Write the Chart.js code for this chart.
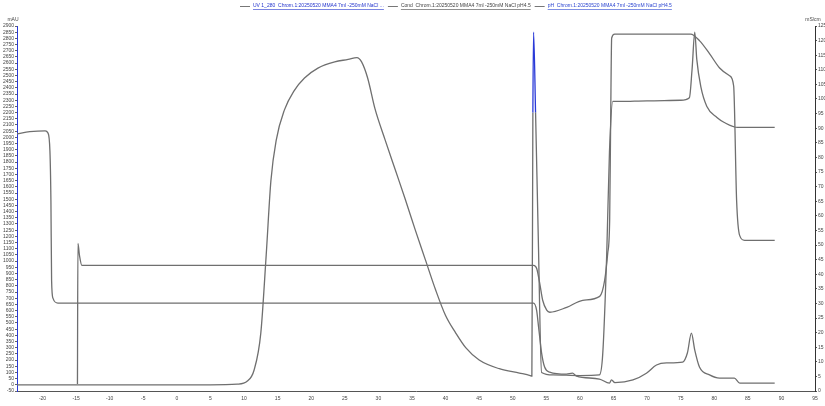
<!DOCTYPE html>
<html>
<head>
<meta charset="utf-8">
<script src="https://cdn.jsdelivr.net/npm/chart.js@4.4.0/dist/chart.umd.min.js"></script>
<style>
  html, body { margin: 0; padding: 0; background: #fff; }
</style>
</head>
<body>
<canvas id="myChart" width="825" height="406"></canvas>
<script>
//SERIES LABELS (LEGEND TEXT)
const seriesLabels = [
  "UV 1_280  Chrom.1:20250520 MMA4 7ml -250mM NaCl ...",
  "Cond  Chrom.1:20250520 MMA4 7ml -250mM NaCl pH4.5",
  "pH  Chrom.1:20250520 MMA4 7ml -250mM NaCl pH4.5",
];
const legendColors = ["#2233cc", "#444444", "#2a44d0"];

//UV 1_280 (mAU, LEFT AXIS)
const timeUV = [-23.8, 5, 9, 10.5, 11.5, 12.5, 13.3, 14, 14.8, 16, 17.5, 19, 21, 23.5, 25.5, 26.8, 27.5, 28.4, 29.5, 31, 32.5, 34, 35.5, 37, 38.5, 40, 41.5, 43, 45, 48, 51, 52.6, 52.85, 53.0, 53.1, 53.4, 53.8, 54.3, 56, 60, 62.9, 63.4, 64, 64.4, 64.9, 66, 70, 75, 76.3, 76.7, 77.1, 77.4, 78, 78.9, 80.4, 81.5, 83.5, 89];
const uvValues = [0, 0, 5, 30, 120, 420, 1050, 1650, 1980, 2220, 2380, 2480, 2560, 2610, 2630, 2645, 2610, 2480, 2230, 1980, 1740, 1500, 1250, 1010, 770, 560, 420, 300, 200, 130, 95, 75, 70, 2200, 2850, 2200, 1200, 100, 80, 75, 80, 250, 1070, 1880, 2290, 2290, 2295, 2300, 2320, 2550, 2850, 2630, 2410, 2250, 2160, 2120, 2080, 2080];

//CONDUCTIVITY (mS/cm, RIGHT AXIS)
const timeCond = [-23.8, -21.9, -19.6, -19.2, -18.9, -18.75, -18.65, -18.45, -17.7, 53.1, 53.55, 53.85, 54.3, 54.75, 55.5, 58, 58.9, 59.5, 62.9, 64.4, 64.7, 65.2, 67.9, 69.9, 71.4, 72.9, 75.3, 76.0, 76.6, 77.1, 77.8, 79.3, 80.8, 83.0, 83.8, 89];
const condValues = [88.1, 88.8, 89.1, 88.4, 82.3, 65.2, 37.9, 31.8, 30.1, 30.1, 27.7, 21.9, 13.0, 8.2, 6.5, 5.8, 6.1, 5.1, 4.1, 2.7, 3.8, 2.9, 3.8, 6.1, 8.9, 9.6, 9.9, 13.0, 19.8, 14.0, 8.2, 5.5, 4.4, 4.4, 2.7, 2.7];

//PH (HIDDEN AXIS 0-14)
const timePH = [-14.8, -14.73, -14.5, -14.14, 53.1, 53.57, 54.02, 54.46, 55.06, 55.51, 58.04, 60.42, 62.95, 63.69, 64.14, 64.43, 64.58, 64.73, 65.18, 76.49, 77.83, 79.32, 80.8, 82.29, 82.89, 83.33, 83.78, 84.52, 89];
const phValues = [0.27, 5.66, 5.2, 4.82, 4.82, 4.70, 4.13, 3.48, 3.10, 3.02, 3.21, 3.48, 3.63, 4.25, 5.28, 6.54, 10.37, 13.54, 13.69, 13.69, 13.43, 12.93, 12.39, 12.09, 11.70, 7.31, 5.97, 5.78, 5.78];

function toPoints(xs, ys) {
  let pts = [];
  for (let i = 0; i < xs.length; i++) {
    pts.push({ x: xs[i], y: ys[i] });
  }
  return pts;
}

const traceColor = "#6f6f6f";
const blue = "#2a3ad8";

//DRAW LEGEND AND AXIS UNITS ON TOP
const headerPlugin = {
  id: "header",
  afterDraw(chart) {
    const ctx = chart.ctx;
    ctx.save();
    ctx.font = "5px Arial, 'Liberation Sans', sans-serif";
    ctx.textBaseline = "middle";
    let x = 240;
    const y = 6;
    for (let i = 0; i < seriesLabels.length; i++) {
      ctx.strokeStyle = "#777";
      ctx.lineWidth = 1;
      ctx.beginPath();
      ctx.moveTo(x, y + 0.5);
      ctx.lineTo(x + 10, y + 0.5);
      ctx.stroke();
      const tx = x + 13;
      const w = ctx.measureText(seriesLabels[i]).width;
      ctx.fillStyle = legendColors[i];
      ctx.textAlign = "left";
      ctx.fillText(seriesLabels[i], tx, y);
      ctx.strokeStyle = legendColors[i];
      ctx.lineWidth = 0.6;
      ctx.beginPath();
      ctx.moveTo(tx, y + 3.5);
      ctx.lineTo(tx + w, y + 3.5);
      ctx.stroke();
      x = tx + w + 4;
    }
    ctx.fillStyle = "#444";
    ctx.font = "5px Arial, 'Liberation Sans', sans-serif";
    ctx.textAlign = "center";
    ctx.fillText("mAU", 13, 20);
    ctx.fillText("mS/cm", 813, 20);
    ctx.restore();
  },
};

const tickFont = { size: 5, family: "Arial, 'Liberation Sans', sans-serif" };

const config = {
  type: "line",
  data: {
    datasets: [
      {
        label: seriesLabels[0],
        data: toPoints(timeUV, uvValues),
        yAxisID: "y",
        borderColor: traceColor,
        borderWidth: 1.3,
        pointRadius: 0,
        cubicInterpolationMode: "monotone",
        segment: {
          //BLUE TIP ON THE ELUTION PEAK ONLY
          borderColor: (c) =>
            c.p0.parsed.y > 2100 &&
            c.p1.parsed.y > 2100 &&
            c.p0.parsed.x > 50 &&
            c.p0.parsed.x < 60
              ? blue
              : undefined,
        },
      },
      {
        label: seriesLabels[1],
        data: toPoints(timeCond, condValues),
        yAxisID: "y2",
        borderColor: traceColor,
        borderWidth: 1.3,
        pointRadius: 0,
        cubicInterpolationMode: "monotone",
      },
      {
        label: seriesLabels[2],
        data: toPoints(timePH, phValues),
        yAxisID: "yPH",
        borderColor: traceColor,
        borderWidth: 1.3,
        pointRadius: 0,
        cubicInterpolationMode: "monotone",
      },
    ],
  },
  options: {
    responsive: false,
    animation: false,
    layout: { padding: { top: 26, left: 0, right: 0, bottom: 0 } },
    plugins: {
      legend: { display: false },
      tooltip: { enabled: false },
    },
    scales: {
      x: {
        type: "linear",
        min: -23.8,
        max: 95,
        ticks: {
          stepSize: 5,
          includeBounds: false,
          autoSkip: false,
          maxRotation: 0,
          font: tickFont,
          color: "#444",
          padding: 5,
          callback: (v) => String(v),
        },
        grid: { drawOnChartArea: false, tickLength: 0 },
        border: { color: "#555" },
        afterFit(scale) {
          scale.height = 15;
        },
      },
      y: {
        position: "left",
        min: -50,
        max: 2900,
        ticks: {
          stepSize: 50,
          autoSkip: false,
          font: tickFont,
          color: "#444",
          padding: 1,
          callback: (v) => String(v),
        },
        grid: { drawOnChartArea: false, tickLength: 2, color: "#666" },
        border: { color: blue },
        afterFit(scale) {
          scale.width = 17;
        },
      },
      y2: {
        position: "right",
        min: 0,
        max: 125,
        ticks: {
          stepSize: 5,
          autoSkip: false,
          font: tickFont,
          color: "#444",
          padding: 1,
          callback: (v) => String(v),
        },
        grid: { drawOnChartArea: false, tickLength: 2, color: "#555" },
        border: { color: "#333" },
        afterFit(scale) {
          scale.width = 10;
        },
      },
      yPH: {
        display: false,
        min: 0,
        max: 14,
      },
    },
  },
  plugins: [headerPlugin],
};

const chart = new Chart(document.getElementById("myChart"), config);
</script>
</body>
</html>
